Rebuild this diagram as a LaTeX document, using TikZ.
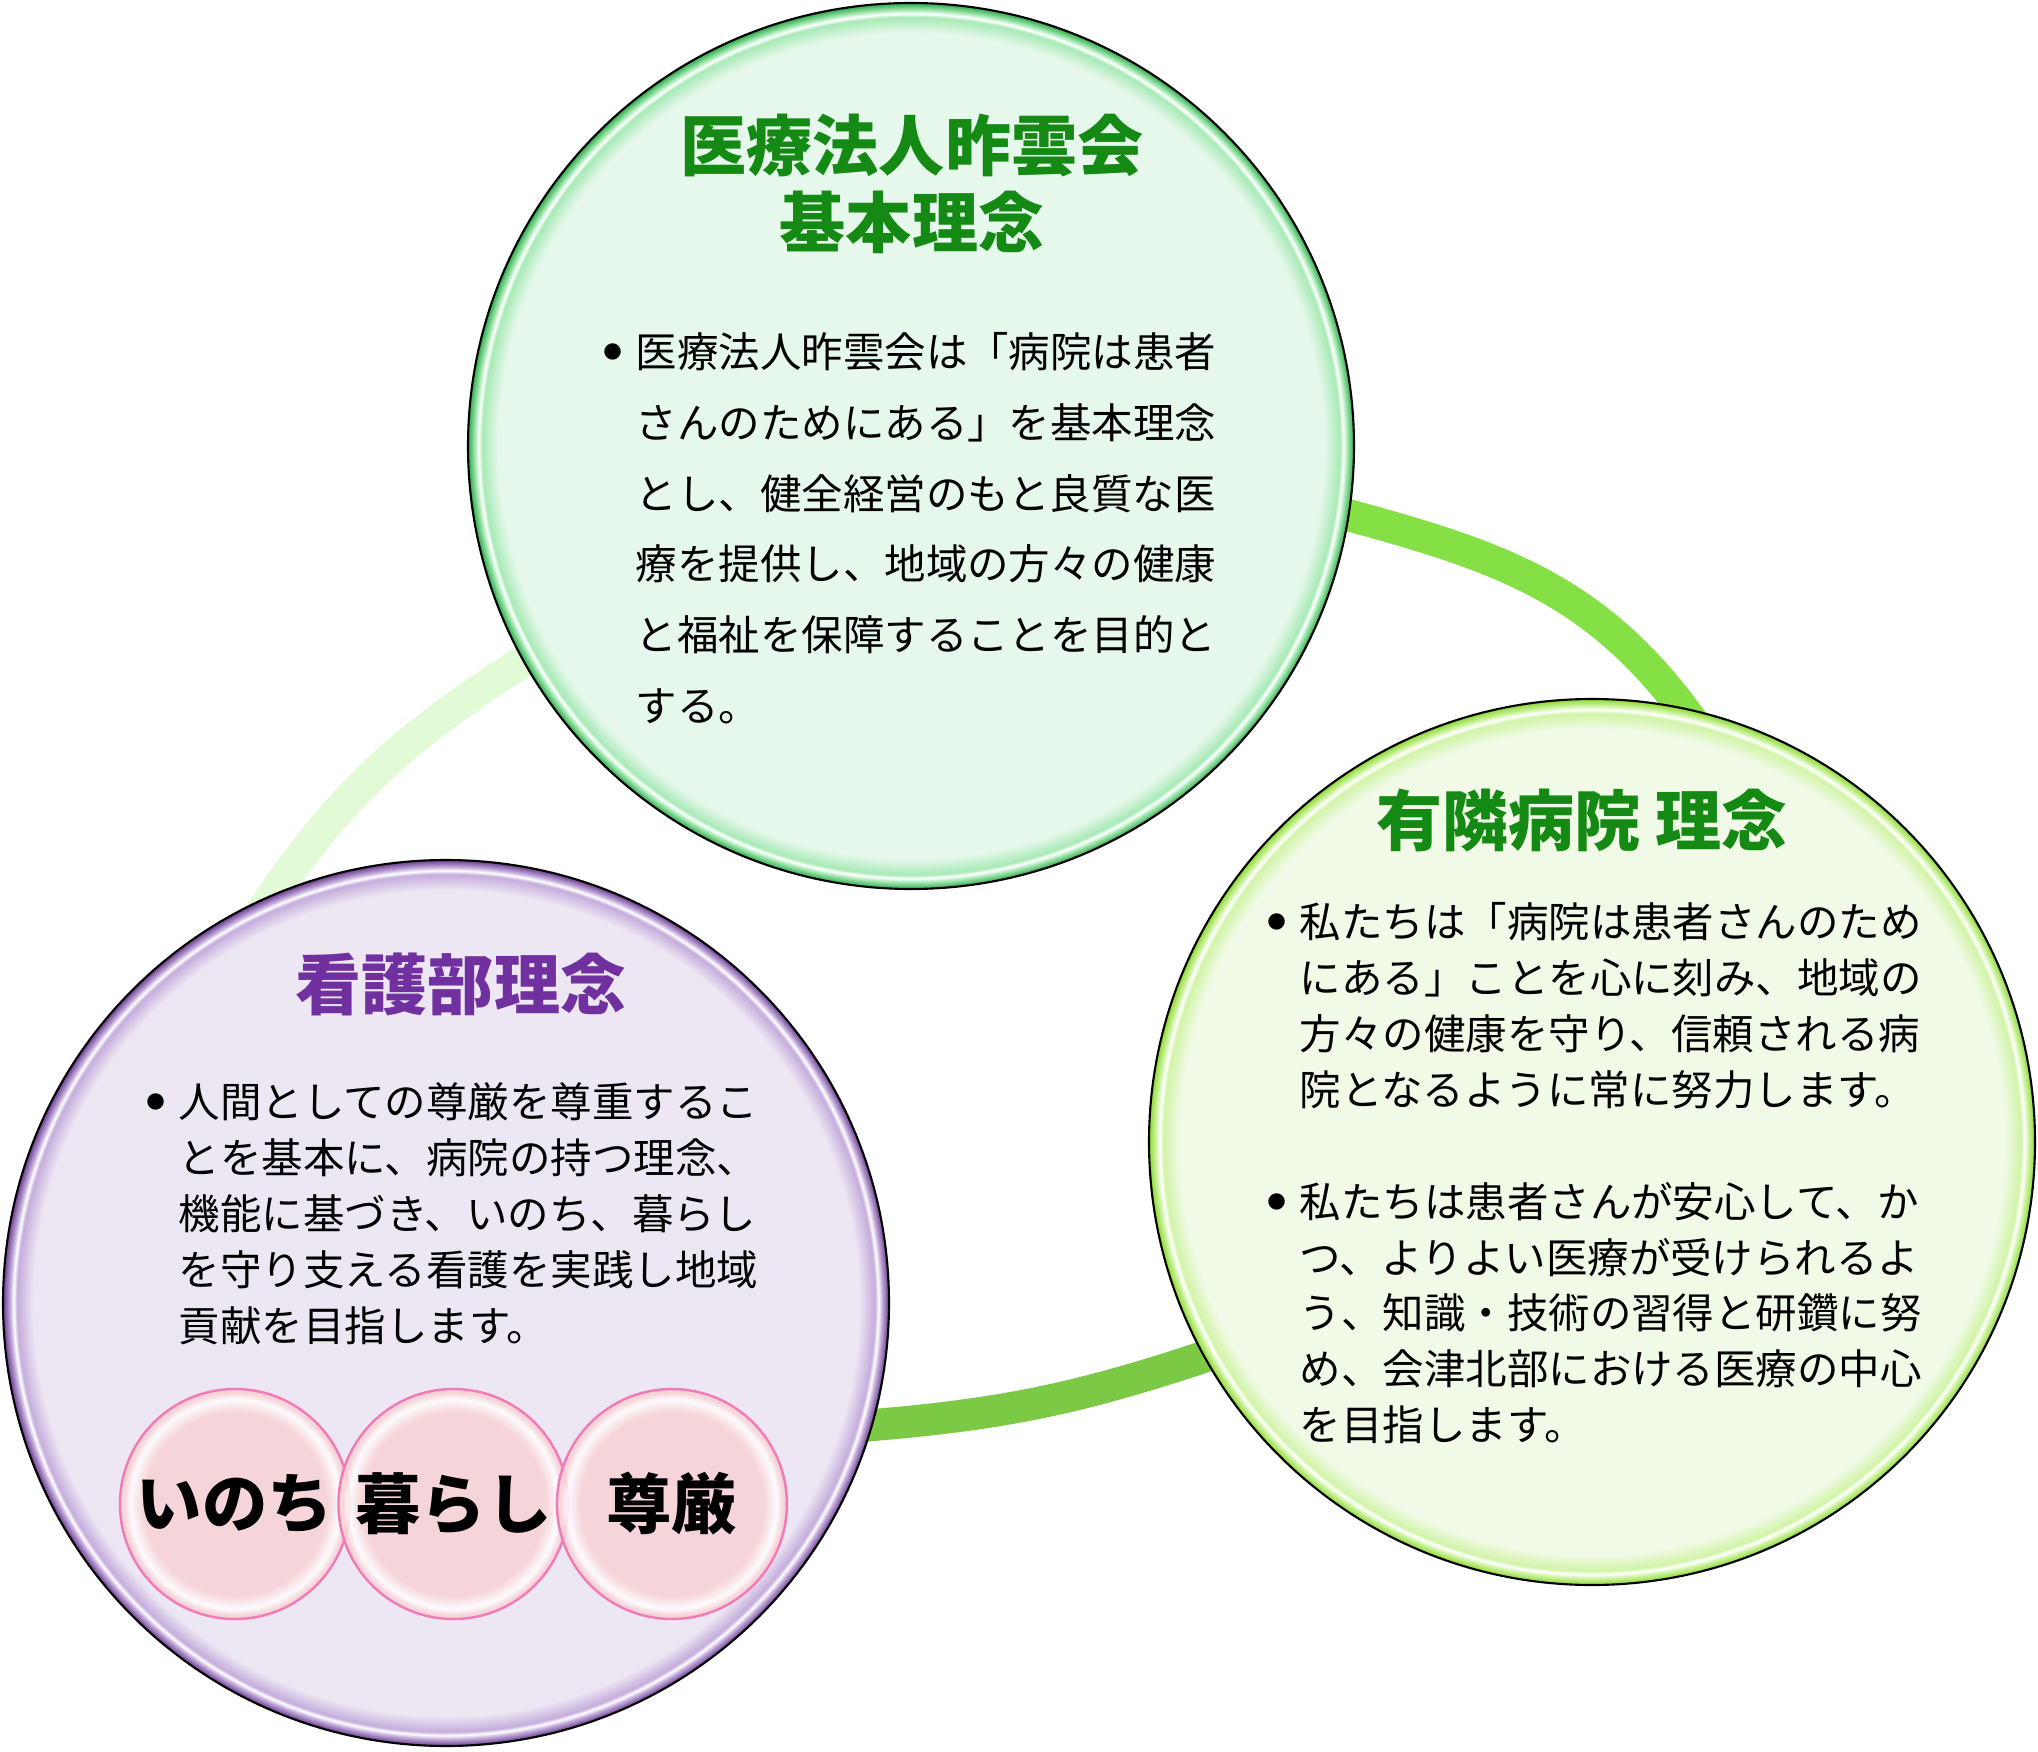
\documentclass[tikz,border=0pt]{standalone}
\usepackage{fontspec}
\newfontfamily\jp{Noto Sans CJK JP}
\usetikzlibrary{positioning}
\pgfdeclarelayer{bg}
\pgfsetlayers{bg,main}

\definecolor{hojinfill}{HTML}{E6F8EB}
\definecolor{hojinlight}{HTML}{A8EAB6}
\definecolor{hojinedge}{HTML}{2EAA4A}
\definecolor{yurinfill}{HTML}{F0FAE6}
\definecolor{yurinlight}{HTML}{D2F4A8}
\definecolor{yurinedge}{HTML}{8CD932}
\definecolor{kangofill}{HTML}{EDE7F3}
\definecolor{kangolight}{HTML}{C4ADDC}
\definecolor{kangoedge}{HTML}{6A3D8F}
\definecolor{titlegreen}{HTML}{148A14}
\definecolor{titlepurple}{HTML}{7030A0}
\definecolor{ringtop}{HTML}{84E044}
\definecolor{ringleft}{HTML}{E2FAD6}
\definecolor{ringbottom}{HTML}{7BC944}
\definecolor{bubblefill}{HTML}{F8D3D6}
\definecolor{bubbleline}{HTML}{F27BB5}

\pgfdeclareradialshading{hojinglow}{\pgfpoint{0bp}{0bp}}{color(0bp)=(hojinfill); color(23.3bp)=(hojinfill); color(24.2bp)=(hojinlight); color(24.4bp)=(white); color(24.6bp)=(hojinlight); color(25bp)=(hojinedge); color(50bp)=(hojinedge)}
\pgfdeclareradialshading{yuringlow}{\pgfpoint{0bp}{0bp}}{color(0bp)=(yurinfill); color(23.3bp)=(yurinfill); color(24.2bp)=(yurinlight); color(24.4bp)=(white); color(24.6bp)=(yurinlight); color(25bp)=(yurinedge); color(50bp)=(yurinedge)}
\pgfdeclareradialshading{kangoglow}{\pgfpoint{0bp}{0bp}}{color(0bp)=(kangofill); color(23.3bp)=(kangofill); color(24.2bp)=(kangolight); color(24.4bp)=(white); color(24.6bp)=(kangolight); color(25bp)=(kangoedge); color(50bp)=(kangoedge)}
\pgfdeclareradialshading{bubbleglow}{\pgfpoint{0bp}{0bp}}{color(0bp)=(bubblefill); color(20bp)=(bubblefill); color(22.8bp)=(white); color(24.2bp)=(bubblefill); color(25bp)=(bubblefill); color(50bp)=(bubblefill)}

\newcommand{\bul}{\makebox[0.33cm][l]{\raisebox{0.12em}{$\bullet$}}}
\newcommand{\ind}{\hspace*{0.33cm}}

\begin{document}
\begin{tikzpicture}[
    bigcircle/.style={circle, draw=black, line width=0.6pt, minimum size=8.86cm, inner sep=0pt},
    heading/.style={font=\jp\bfseries\fontsize{18.8pt}{21.9pt}\selectfont, align=center, inner sep=0pt},
    body/.style={font=\jp\fontsize{11.8pt}{15.9pt}\selectfont, align=left, anchor=north west, inner sep=0pt},
    bubble/.style={circle, draw=bubbleline, line width=0.7pt, shading=bubbleglow, fill opacity=0.85, text opacity=1, minimum size=2.3cm, inner sep=0pt, font=\jp\bfseries\fontsize{18.6pt}{18.6pt}\selectfont},
    ring/.style={line width=0.32cm, shorten <=-0.5cm, shorten >=-0.5cm}
  ]
  \useasboundingbox (0,0) rectangle (20.38,17.51);

  % circles
  \node[bigcircle, shading=hojinglow] (hojin) at (9.11,13.05) {};
  \node[bigcircle, shading=yuringlow] (yurin) at (15.92,6.09) {};
  \node[bigcircle, shading=kangoglow] (kango) at (4.46,4.48) {};

  % ring behind the circles
  \begin{pgfonlayer}{bg}
    \fill[white] (0,0) rectangle (20.38,17.51);
    \draw[ring, draw=ringtop] (hojin.-9.3) to[out=-15, in=123] (yurin.78.8);
    \draw[ring, draw=ringleft] (hojin.209.5) to[out=212, in=57] (kango.113.7);
    \draw[ring, draw=ringbottom] (kango.-16.2) to[out=4, in=199] (yurin.209.2);
  \end{pgfonlayer}

  % titles
  \node[heading, text=titlegreen] (hojintitle) at (9.12,15.675) {医療法人昨雲会\\基本理念};
  \node[heading, text=titlegreen] (yurintitle) at (15.82,9.31) {有隣病院 理念};
  \node[heading, text=titlepurple] (kangotitle) at (4.61,7.67) {看護部理念};

  % texts
  \node[body, font=\jp\fontsize{11.8pt}{20.1pt}\selectfont] (hojintext) at (6.02,14.19) {\bul 医療法人昨雲会は「病院は患者\\\ind さんのためにある」を基本理念\\\ind とし、健全経営のもと良質な医\\\ind 療を提供し、地域の方々の健康\\\ind と福祉を保障することを目的と\\\ind する。};
  \node[body] (yurintext) at (12.66,8.49) {\bul 私たちは「病院は患者さんのため\\\ind にある」ことを心に刻み、地域の\\\ind 方々の健康を守り、信頼される病\\\ind 院となるように常に努力します。\\[0.558cm]\bul 私たちは患者さんが安心して、か\\\ind つ、よりよい医療が受けられるよ\\\ind う、知識・技術の習得と研鑽に努\\\ind め、会津北部における医療の中心\\\ind を目指します。};
  \node[body] (kangotext) at (1.45,6.69) {\bul 人間としての尊厳を尊重するこ\\\ind とを基本に、病院の持つ理念、\\\ind 機能に基づき、いのち、暮らし\\\ind を守り支える看護を実践し地域\\\ind 貢献を目指します。};

  % bubbles
  \node[bubble] (inochi) at (2.35,2.47) {いのち};
  \node[bubble, right=-0.14cm of inochi] (kurashi) {暮らし};
  \node[bubble, right=-0.14cm of kurashi] (songen) {尊厳};
\end{tikzpicture}
\end{document}
